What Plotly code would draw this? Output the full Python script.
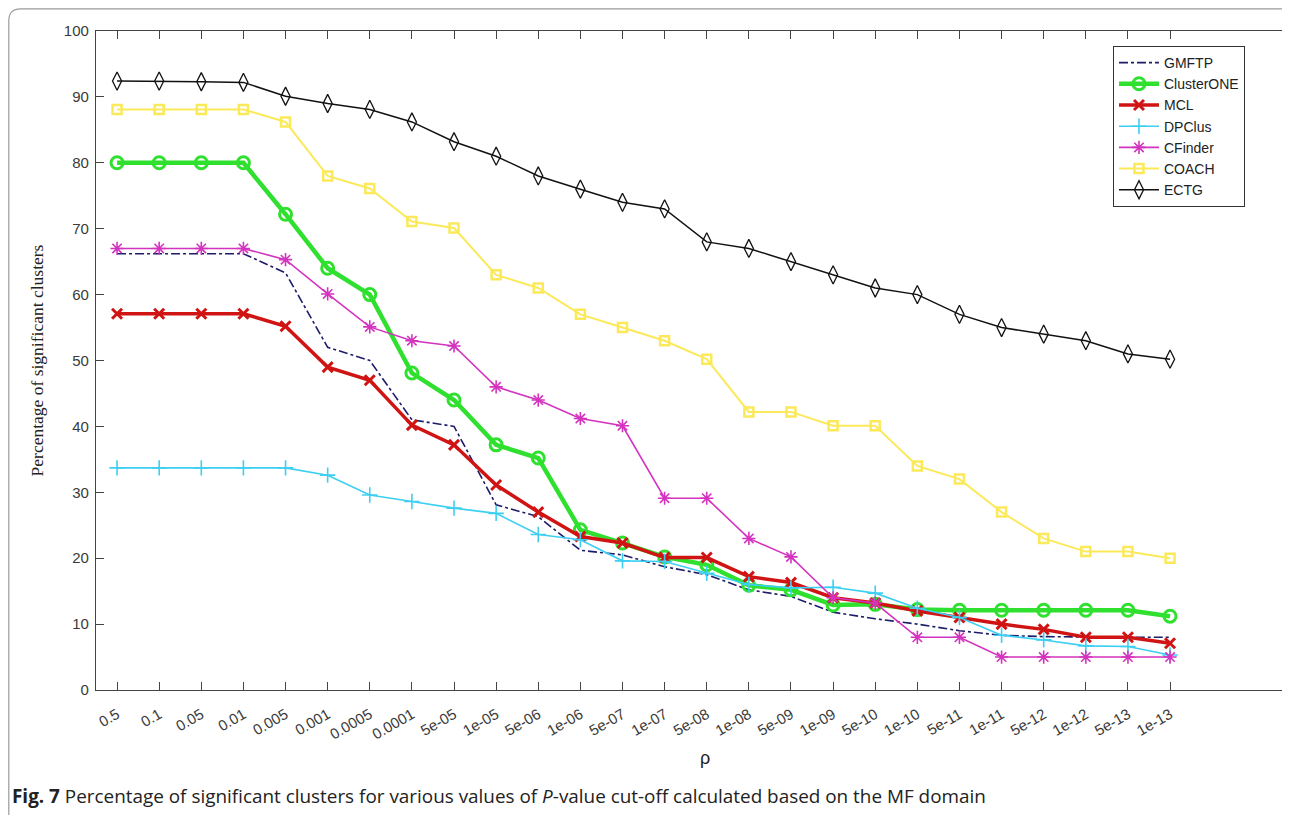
import plotly.graph_objects as go

categories = ["0.5", "0.1", "0.05", "0.01", "0.005", "0.001", "0.0005", "0.0001",
              "5e-05", "1e-05", "5e-06", "1e-06", "5e-07", "1e-07", "5e-08", "1e-08",
              "5e-09", "1e-09", "5e-10", "1e-10", "5e-11", "1e-11", "5e-12", "1e-12",
              "5e-13", "1e-13"]

gmftp = [66.2, 66.2, 66.2, 66.2, 63.3, 52, 50, 41, 40, 28.1, 26.3, 21.2, 20.5, 18.7,
         17.5, 15.2, 14.2, 11.8, 10.8, 10, 9, 8.3, 8.1, 8, 8, 8]
clusterone = [80, 80, 80, 80, 72.2, 64, 60, 48.1, 44, 37.2, 35.2, 24.3, 22.3, 20.2,
              19, 15.9, 15.2, 12.9, 13, 12.2, 12.1, 12.1, 12.1, 12.1, 12.1, 11.2]
mcl = [57.1, 57.1, 57.1, 57.1, 55.2, 49, 47, 40.2, 37.2, 31.1, 27, 23.3, 22.3, 20.1,
       20.1, 17.2, 16.3, 14, 13.2, 12, 11, 10, 9.2, 8, 8, 7.1]
dpclus = [33.7, 33.7, 33.7, 33.7, 33.7, 32.6, 29.6, 28.6, 27.6, 26.8, 23.6, 22.8,
          19.6, 19.5, 17.7, 16, 15.5, 15.6, 14.7, 12.4, 11, 8.3, 7.6, 6.7, 6.6, 5.3]
cfinder = [67, 67, 67, 67, 65.3, 60.1, 55.1, 53, 52.2, 46, 44, 41.2, 40.1, 29.1,
           29.1, 23, 20.2, 14, 13.2, 8, 8, 5, 5, 5, 5, 5]
coach = [88.1, 88.1, 88.1, 88.1, 86.2, 78, 76.1, 71.1, 70.1, 63, 61, 57, 55, 53,
         50.2, 42.2, 42.2, 40.1, 40.1, 34, 32, 27, 23, 21, 21, 20]
ectg = [92.4, 92.4, 92.3, 92.2, 90.1, 89, 88.1, 86.2, 83.2, 81, 78, 76, 74, 73,
        68, 67, 65, 63, 61, 60, 57, 55, 54, 53, 51, 50.2]

fig = go.Figure()

fig.add_trace(go.Scatter(x=categories, y=gmftp, name="GMFTP", mode="lines",
                         line=dict(color="#1c1c6a", width=1.6, dash="dashdot")))
fig.add_trace(go.Scatter(x=categories, y=clusterone, name="ClusterONE", mode="lines+markers",
                         line=dict(color="#2fe02f", width=4.5),
                         marker=dict(symbol="circle-open", size=12, color="#2fe02f",
                                     line=dict(width=3, color="#2fe02f"))))
fig.add_trace(go.Scatter(x=categories, y=mcl, name="MCL", mode="lines+markers",
                         line=dict(color="#d01414", width=3.5),
                         marker=dict(symbol="x-thin", size=10, color="#d01414",
                                     line=dict(width=3, color="#d01414"))))
fig.add_trace(go.Scatter(x=categories, y=dpclus, name="DPClus", mode="lines+markers",
                         line=dict(color="#3ccff2", width=1.6),
                         marker=dict(symbol="cross-thin", size=11, color="#3ccff2",
                                     line=dict(width=1.6, color="#3ccff2"))))
fig.add_trace(go.Scatter(x=categories, y=cfinder, name="CFinder", mode="lines+markers",
                         line=dict(color="#d433bf", width=1.6),
                         marker=dict(symbol="asterisk", size=11, color="#d433bf",
                                     line=dict(width=1.6, color="#d433bf"))))
fig.add_trace(go.Scatter(x=categories, y=coach, name="COACH", mode="lines+markers",
                         line=dict(color="#fbe95a", width=2),
                         marker=dict(symbol="square-open", size=9, color="#fbe95a",
                                     line=dict(width=2.5, color="#fbe95a"))))
fig.add_trace(go.Scatter(x=categories, y=ectg, name="ECTG", mode="lines+markers",
                         line=dict(color="#111111", width=1.5),
                         marker=dict(symbol="diamond-tall-open", size=13, color="#111111",
                                     line=dict(width=1.3, color="#111111"))))

# page has an 8px body margin; figure pixel = page pixel - 8
W, H = 1282, 807
L, R, T, B = 88, 0, 23, 125
pw, ph = W - L - R, H - T - B

def px(xpage):
    return (xpage - 8 - L) / pw

def py(ypage):
    return (H - B - (ypage - 8)) / ph

x_right = -0.5 + pw / 42.12

tickfont = dict(family="Liberation Sans, Arial", size=15, color="#3a3a3a")

fig.update_layout(
    width=W, height=H,
    margin=dict(l=L, r=R, t=T, b=B),
    paper_bgcolor="white", plot_bgcolor="white",
    xaxis=dict(type="category", range=[-0.5, x_right], tickangle=-30,
               showline=True, linecolor="#444444", linewidth=1.2, mirror="ticks",
               ticks="inside", ticklen=8, tickcolor="#444444", tickwidth=1.2,
               showgrid=False, zeroline=False, tickfont=tickfont, ticklabelstandoff=9),
    yaxis=dict(range=[0, 100], tickmode="linear", tick0=0, dtick=10,
               showline=True, linecolor="#444444", linewidth=1.2, mirror=False,
               ticks="inside", ticklen=8, tickcolor="#444444", tickwidth=1.2,
               showgrid=False, zeroline=False, tickfont=tickfont, ticklabelstandoff=3,
               title=dict(text="Percentage of significant clusters",
                          font=dict(family="Liberation Serif, Times New Roman", size=17.5, color="#222222"),
                          standoff=15)),
    legend=dict(x=px(1113), y=py(46), xanchor="left", yanchor="top",
                bordercolor="#333333", borderwidth=1, bgcolor="white",
                font=dict(family="Liberation Sans, Arial", size=14, color="#222222"),
                tracegroupgap=0, itemwidth=40),
    showlegend=True,
)

fig.add_annotation(text="ρ", xref="paper", yref="paper", x=px(705), y=py(758),
                   showarrow=False, xanchor="center", yanchor="middle",
                   font=dict(family="Liberation Sans, Arial", size=18, color="#222222"))

fig.add_annotation(text="<b>Fig. 7</b> Percentage of significant clusters for various values of <i>P</i>-value cut-off calculated based on the MF domain",
                   xref="paper", yref="paper", x=px(10), y=py(796),
                   showarrow=False, xanchor="left", yanchor="middle",
                   font=dict(family="Open Sans, Noto Sans", size=18.9, color="#222222"))

# outer article frame (decorative)
r = 12
x0, yt, xr, yb = px(8.8), py(8.8), px(1300), py(830)
fig.add_shape(type="path", xref="paper", yref="paper",
              path=f"M {x0},{yb} L {x0},{py(8.8 + r)} Q {x0},{yt} {px(8.8 + r)},{yt} L {xr},{yt}",
              line=dict(color="#9a9a9a", width=1.2), layer="below")

fig.write_html("out.html")
